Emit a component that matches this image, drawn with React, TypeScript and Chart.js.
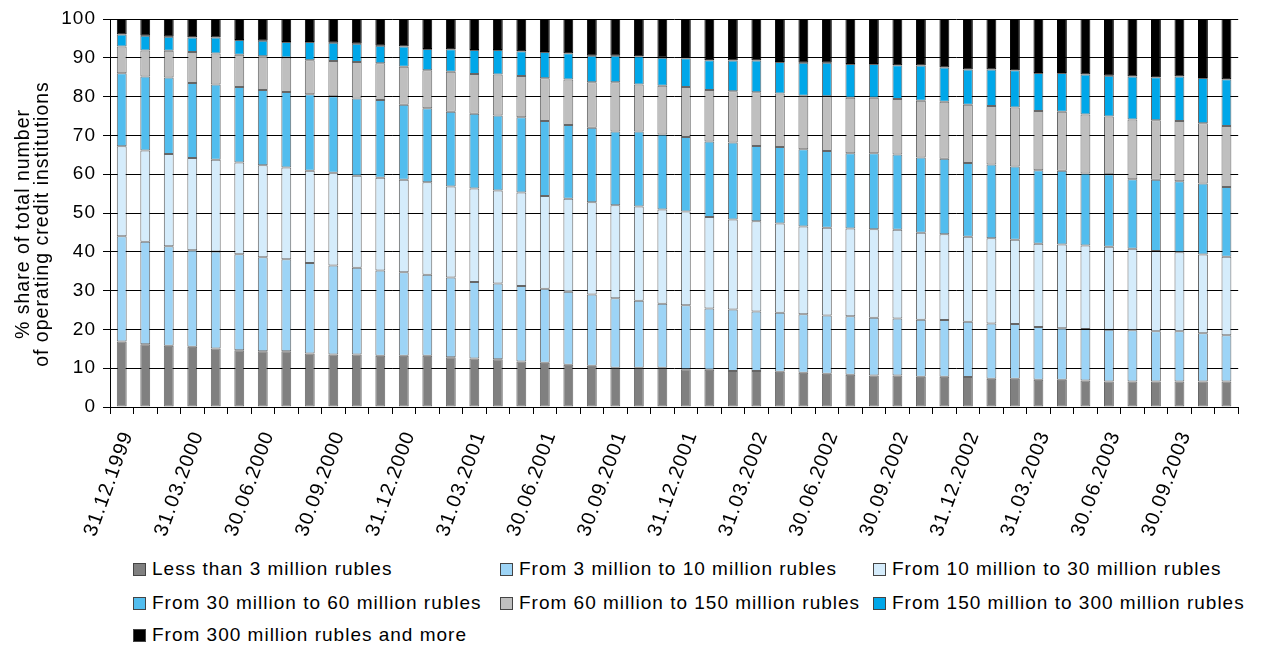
import React, { useEffect, useRef } from "react";
import { Chart, registerables } from "chart.js";

Chart.register(...registerables);

const categories = [
  "31.12.1999", "31.01.2000", "29.02.2000", "31.03.2000", "30.04.2000", "31.05.2000",
  "30.06.2000", "31.07.2000", "31.08.2000", "30.09.2000", "31.10.2000", "30.11.2000",
  "31.12.2000", "31.01.2001", "28.02.2001", "31.03.2001", "30.04.2001", "31.05.2001",
  "30.06.2001", "31.07.2001", "31.08.2001", "30.09.2001", "31.10.2001", "30.11.2001",
  "31.12.2001", "31.01.2002", "28.02.2002", "31.03.2002", "30.04.2002", "31.05.2002",
  "30.06.2002", "31.07.2002", "31.08.2002", "30.09.2002", "31.10.2002", "30.11.2002",
  "31.12.2002", "31.01.2003", "28.02.2003", "31.03.2003", "30.04.2003", "31.05.2003",
  "30.06.2003", "31.07.2003", "31.08.2003", "30.09.2003", "31.10.2003", "30.11.2003",
];

const lessThan3 = [
  16.9, 16.2, 15.8, 15.5, 15.1, 14.6, 14.4, 14.4, 13.8, 13.5, 13.5, 13.2,
  13.2, 13.2, 12.8, 12.5, 12.3, 11.7, 11.4, 10.9, 10.6, 10.1, 10.1, 10.1,
  9.7, 9.6, 9.3, 9.3, 9.1, 8.8, 8.6, 8.3, 8.1, 8.1, 7.8, 7.8,
  7.7, 7.3, 7.3, 7.0, 7.0, 6.8, 6.6, 6.6, 6.6, 6.6, 6.6, 6.6,
];
const from3to10 = [
  27.1, 26.4, 25.6, 24.9, 25.0, 24.8, 24.2, 23.7, 23.3, 23.0, 22.4, 22.0,
  21.5, 20.9, 20.6, 19.7, 19.5, 19.5, 19.1, 18.8, 18.4, 17.9, 17.3, 16.5,
  16.5, 15.8, 15.8, 15.3, 15.2, 15.1, 15.0, 15.1, 14.9, 14.7, 14.7, 14.6,
  14.3, 14.2, 14.1, 13.6, 13.3, 13.3, 13.3, 13.2, 12.9, 12.9, 12.4, 11.9,
];
const from10to30 = [
  23.2, 23.5, 23.8, 23.8, 23.6, 23.6, 23.7, 23.6, 23.8, 23.9, 23.7, 23.9,
  23.9, 23.8, 23.4, 24.1, 24.0, 24.1, 23.9, 24.0, 23.8, 24.0, 24.3, 24.3,
  24.2, 23.6, 23.2, 23.3, 23.0, 22.6, 22.6, 22.6, 22.8, 22.9, 22.4, 22.1,
  21.9, 22.0, 21.7, 21.5, 21.6, 21.5, 21.4, 21.0, 20.7, 20.4, 20.3, 20.2,
];
const from30to60 = [
  18.8, 19.1, 19.7, 19.3, 19.4, 19.5, 19.4, 19.5, 19.7, 19.7, 19.9, 20.0,
  19.3, 19.1, 19.3, 19.3, 19.3, 19.4, 19.3, 19.0, 19.2, 19.0, 19.3, 19.3,
  19.2, 19.4, 19.9, 19.4, 19.7, 19.9, 19.8, 19.4, 19.6, 19.4, 19.4, 19.5,
  19.0, 19.0, 18.9, 18.9, 19.0, 18.6, 18.7, 17.9, 18.4, 18.3, 18.3, 18.0,
];
const from60to150 = [
  6.9, 6.7, 6.9, 8.0, 8.0, 8.3, 8.7, 8.9, 8.8, 9.1, 9.4, 9.5,
  9.8, 9.8, 10.3, 10.2, 10.6, 10.6, 11.0, 11.7, 11.7, 12.7, 12.1, 12.6,
  12.9, 13.3, 13.2, 13.8, 13.8, 13.8, 14.1, 14.3, 14.3, 14.3, 14.6, 14.7,
  15.0, 15.1, 15.2, 15.3, 15.2, 15.2, 14.9, 15.4, 15.3, 15.5, 15.5, 15.7,
];
const from150to300 = [
  3.1, 3.8, 3.6, 3.7, 4.1, 3.8, 4.0, 4.0, 4.7, 4.7, 4.7, 4.5,
  5.2, 5.5, 5.8, 6.2, 6.3, 6.4, 6.8, 6.8, 6.8, 6.8, 7.3, 7.2,
  7.4, 7.7, 7.9, 8.2, 8.1, 8.5, 8.6, 8.7, 8.7, 8.7, 9.1, 8.8,
  9.1, 9.4, 9.6, 9.8, 10.0, 10.3, 10.5, 11.1, 11.1, 11.5, 11.7, 12.1,
];
const from300 = [
  4.0, 4.3, 4.6, 4.8, 4.8, 5.4, 5.6, 5.9, 5.9, 6.1, 6.4, 6.9,
  7.1, 7.7, 7.8, 8.0, 8.0, 8.3, 8.5, 8.8, 9.5, 9.5, 9.6, 10.0,
  10.1, 10.6, 10.7, 10.7, 11.1, 11.3, 11.3, 11.6, 11.6, 11.9, 12.0, 12.5,
  13.0, 13.0, 13.2, 13.9, 13.9, 14.3, 14.6, 14.8, 15.0, 14.8, 15.2, 15.5,
];

const seriesLabels = [
  "Less than 3 million rubles",
  "From 3 million to 10 million rubles",
  "From 10 million to 30 million rubles",
  "From 30 million to 60 million rubles",
  "From 60 million to 150 million rubles",
  "From 150 million to 300 million rubles",
  "From 300 million rubles and more",
];
const seriesColors = ["#808080", "#9dd4f6", "#d5ecfb", "#52bdee", "#bfbfbf", "#00a7e9", "#000000"];
const seriesValues = [lessThan3, from3to10, from10to30, from30to60, from60to150, from150to300, from300];

const yTitle = ["% share of total number", "of operating credit institutions"];

const FONT = "'Liberation Sans', Arial, Helvetica, sans-serif";

const spacingPlugin = {
  id: "letterSpacing",
  beforeDraw(chart: any) {
    (chart.ctx as any).letterSpacing = "1px";
  },
};

// Draws the two-line rotated y-axis title, centred a little below the plot's middle.
const yTitlePlugin = {
  id: "yTitleLines",
  afterDraw(chart: any) {
    const ctx = chart.ctx as any;
    const area = chart.chartArea;
    const cy = (area.top + area.bottom) / 2 + 11;
    const lineX = [24, 43];
    ctx.save();
    ctx.letterSpacing = "1px";
    ctx.fillStyle = "#000";
    ctx.font = `19.5px ${FONT}`;
    ctx.textAlign = "center";
    ctx.textBaseline = "middle";
    yTitle.forEach((line, i) => {
      ctx.save();
      ctx.translate(lineX[i], cy);
      ctx.rotate(-Math.PI / 2);
      ctx.fillText(line, 0, 0);
      ctx.restore();
    });
    ctx.restore();
  },
};

export default function App() {
  const canvasRef = useRef<HTMLCanvasElement | null>(null);

  useEffect(() => {
    if (!canvasRef.current) return;
    const chart = new Chart(canvasRef.current, {
      type: "bar",
      data: {
        labels: categories,
        datasets: seriesValues.map((vals, i) => ({
          label: seriesLabels[i],
          data: vals,
          backgroundColor: seriesColors[i],
          borderColor: i === 6 ? "#000000" : "rgba(0,0,0,0.6)",
          borderWidth: 1,
          borderSkipped: false,
          categoryPercentage: 1,
          barPercentage: 0.42,
        })),
      },
      options: {
        responsive: false,
        animation: false,
        layout: { padding: { top: 19, right: 1, left: 0, bottom: 0 } },
        plugins: {
          legend: { display: false },
          tooltip: { enabled: false },
        },
        scales: {
          x: {
            stacked: true,
            afterFit: (s: any) => {
              s.height = 143;
            },
            grid: {
              offset: true,
              drawOnChartArea: false,
              drawTicks: true,
              tickLength: 7,
              color: "#000",
              lineWidth: 1,
            },
            border: { display: true, color: "#000", width: 1 },
            ticks: {
              autoSkip: false,
              minRotation: 70,
              maxRotation: 70,
              padding: 14,
              labelOffset: 6,
              color: "#000",
              font: { family: FONT, size: 20 },
              callback: (_v: any, i: number) => (i % 3 === 0 ? categories[i] : ""),
            },
          },
          y: {
            stacked: true,
            min: 0,
            max: 100,
            afterFit: (s: any) => {
              s.width = 110;
            },
            grid: {
              color: "#000",
              lineWidth: 1,
              drawTicks: true,
              tickLength: 7,
            },
            border: { display: true, color: "#000", width: 1 },
            ticks: {
              stepSize: 10,
              padding: 7,
              color: "#000",
              font: { family: FONT, size: 19 },
            },
            title: { display: false },
          },
        },
      },
      plugins: [spacingPlugin, yTitlePlugin],
    } as any);
    return () => chart.destroy();
  }, []);

  const colX = [133, 500, 873];
  const rowY = [569, 603, 635];

  return (
    <div
      style={{
        position: "absolute",
        left: 0,
        top: 0,
        width: 1263,
        height: 645,
        background: "#fff",
        overflow: "hidden",
      }}
    >
      <canvas ref={canvasRef} width={1263} height={550} style={{ display: "block" }} />
      {seriesLabels.map((label, i) => (
        <div
          key={label}
          style={{
            position: "absolute",
            left: colX[i % 3],
            top: rowY[Math.floor(i / 3)] - 11,
            height: 22,
            display: "flex",
            alignItems: "center",
            whiteSpace: "nowrap",
            fontFamily: FONT,
            fontSize: 19,
            letterSpacing: "1px",
            color: "#000",
          }}
        >
          <span
            style={{
              display: "inline-block",
              width: 11,
              height: 11,
              background: seriesColors[i],
              border: "1px solid #444",
              marginRight: 6,
            }}
          />
          <span>{label}</span>
        </div>
      ))}
    </div>
  );
}
